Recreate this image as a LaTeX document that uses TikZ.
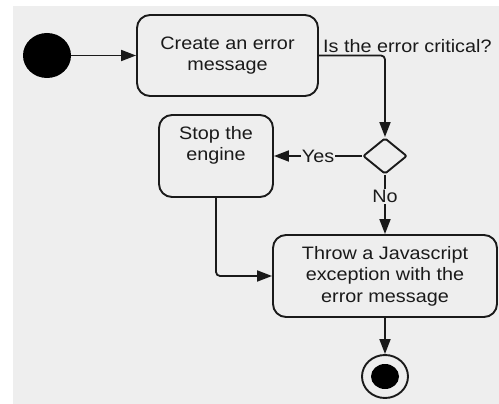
\documentclass[tikz,border=0pt]{standalone}
\usepackage{fontspec}
\setmainfont{Liberation Sans}[FakeStretch=1.1]
\usetikzlibrary{arrows.meta,shapes.geometric}
\definecolor{panel}{HTML}{EEEEEE}
\definecolor{ink}{HTML}{1A1A1A}
\tikzset{
  act/.style={draw=ink, line width=1.9pt, rounded corners=13pt, fill=panel,
    align=center, inner sep=0pt, font=\fontsize{18}{21.5}\selectfont, text=ink},
  flow/.style={draw=ink, line width=1.8pt, -{Triangle[length=15pt,width=11pt]}},
  lbl/.style={font=\fontsize{18}{21.5}\selectfont, text=ink, fill=panel, inner sep=1pt},
  choice/.style={draw=ink, line width=1.9pt, diamond, minimum width=44pt,
    minimum height=36pt, inner sep=0pt, rounded corners=2pt, fill=panel},
}
\begin{document}
\begin{tikzpicture}[x=1pt,y=-1pt]
  \useasboundingbox (0,0) rectangle (499,404);
  \fill[panel] (13,6) rectangle (499,404);

  % initial and final states
  \node[ellipse, fill=black, minimum width=48pt, minimum height=45pt, inner sep=0pt] (start) at (47,55.5) {};
  \node[ellipse, draw=ink, line width=1.9pt, minimum width=46pt, minimum height=43pt, inner sep=0pt] (final) at (385,376.5) {};
  \node[ellipse, fill=black, minimum width=28pt, minimum height=25pt, inner sep=0pt] (finaldot) at (final.center) {};

  % activities
  \node[act, minimum width=181pt, minimum height=81pt] (create) at (227.5,55.5) {Create an error\\message};
  \node[act, minimum width=114pt, minimum height=82pt] (stop) at (216,156) {Stop the\\engine\\[4pt]};
  \node[act, minimum width=224pt, minimum height=82pt] (throw) at (385,276) {Throw a Javascript\\exception with the\\error message};

  % decision
  \node[choice] (crit) at (385,156) {};

  % transitions
  \draw[flow] (start) -- (create);
  \draw[flow, rounded corners=4pt] (create.east) -| (crit.north);
  \node[font=\fontsize{18}{21.5}\selectfont, text=ink, anchor=base west, inner sep=0pt] (question) at (323,53) {Is the error critical?};
  \draw[flow] (crit.west) -- node[lbl] {Yes} (stop.east);
  \draw[flow] (crit.south) -- node[lbl, pos=0.36] {No} (throw.north);
  \draw[flow, rounded corners=4pt] (stop.south) |- (throw.west);
  \draw[flow] (throw.south) -- (final.north);
\end{tikzpicture}
\end{document}
